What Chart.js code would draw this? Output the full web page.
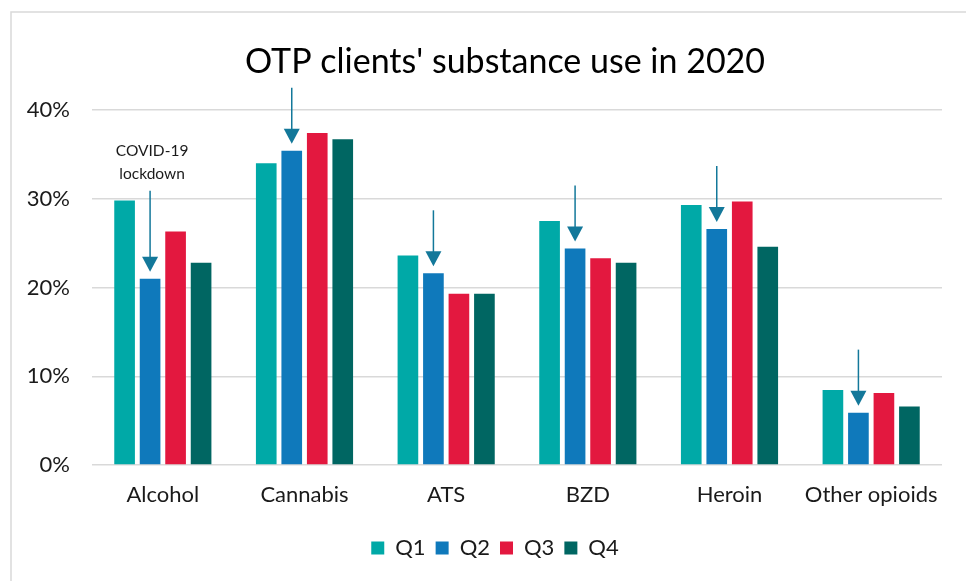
<!DOCTYPE html>
<html>
<head>
<meta charset="utf-8">
<script src="https://cdn.jsdelivr.net/npm/chart.js@4"></script>
<style>
  html, body { margin: 0; padding: 0; background: #ffffff; }
  #wrap { width: 966px; height: 581px; }
</style>
</head>
<body>
<div id="wrap"><canvas id="chart" width="966" height="581"></canvas></div>
<script>
// substance use by quarter, % of OTP clients
const categories = ['Alcohol', 'Cannabis', 'ATS', 'BZD', 'Heroin', 'Other opioids'];
const seriesNames = ['Q1', 'Q2', 'Q3', 'Q4'];
const q1 = [29.8, 34.0, 23.6, 27.5, 29.3, 8.45];
const q2 = [21.0, 35.4, 21.6, 24.4, 26.6, 5.9];
const q3 = [26.3, 37.4, 19.3, 23.3, 29.7, 8.1];
const q4 = [22.8, 36.7, 19.3, 22.8, 24.6, 6.6];
const yTicks = [0, 10, 20, 30, 40];
const titleText = "OTP clients' substance use in 2020";
const noteLines = ['COVID-19', 'lockdown'];

const colors = ['#00a9a7', '#0f79bb', '#e3183f', '#006662'];
const arrowColor = '#13789a';
const fontFamily = "Lato, 'Liberation Sans', sans-serif";

// white background, light frame along the top and left, and the title
const frame = {
    id: 'frame',
    afterLayout(chart) {
        // legend sits a little right of the canvas centre
        chart.legend.left += 18;
        chart.legend.right += 18;
    },
    beforeDraw(chart) {
        const ctx = chart.ctx;
        ctx.save();
        ctx.fillStyle = '#ffffff';
        ctx.fillRect(0, 0, chart.width, chart.height);
        ctx.strokeStyle = '#d9d9d9';
        ctx.lineWidth = 1.5;
        ctx.strokeRect(11, 12, chart.width + 20, chart.height + 20);
        ctx.fillStyle = '#000000';
        ctx.font = '34px ' + fontFamily;
        ctx.textAlign = 'center';
        ctx.textBaseline = 'middle';
        ctx.fillText(titleText, 505, 62);
        ctx.restore();
    }
};

// arrows pointing down at each Q2 bar, with the lockdown note over the first one
const lockdownArrows = {
    id: 'lockdownArrows',
    afterDatasetsDraw(chart) {
        const ctx = chart.ctx;
        const bars = chart.getDatasetMeta(1).data;
        ctx.save();
        ctx.strokeStyle = arrowColor;
        ctx.fillStyle = arrowColor;
        ctx.lineWidth = 1.5;
        bars.forEach((bar, i) => {
            const x = bar.x;
            const tip = bar.y - 7;
            const len = i === 0 ? 81 : 56;
            ctx.beginPath();
            ctx.moveTo(x, tip - len);
            ctx.lineTo(x, tip - 12);
            ctx.stroke();
            ctx.beginPath();
            ctx.moveTo(x - 8, tip - 15);
            ctx.lineTo(x + 8, tip - 15);
            ctx.lineTo(x, tip);
            ctx.closePath();
            ctx.fill();
        });
        // note text above the Alcohol arrow
        const first = bars[0];
        ctx.fillStyle = '#1a1a1a';
        ctx.font = '15.5px ' + fontFamily;
        ctx.textAlign = 'center';
        ctx.textBaseline = 'middle';
        const top = first.y - 7 - 81;
        ctx.fillText(noteLines[0], first.x + 2, top - 40);
        ctx.fillText(noteLines[1], first.x + 2, top - 17);
        ctx.restore();
    }
};

const seriesData = [q1, q2, q3, q4];

new Chart(document.getElementById('chart'), {
    type: 'bar',
    data: {
        labels: categories,
        datasets: seriesNames.map((name, i) => ({
            label: name,
            data: seriesData[i],
            backgroundColor: colors[i],
            borderWidth: 0,
            categoryPercentage: 0.72,
            barPercentage: 0.81
        }))
    },
    options: {
        responsive: false,
        animation: false,
        layout: { padding: { left: 12, right: 24, top: 110, bottom: 12 } },
        plugins: {
            title: { display: false },
            legend: {
                position: 'bottom',
                labels: {
                    color: '#1a1a1a',
                    font: { family: fontFamily, size: 22 },
                    boxWidth: 13,
                    boxHeight: 13,
                    padding: 10
                }
            },
            tooltip: { enabled: false }
        },
        scales: {
            x: {
                afterFit(scale) { scale.height = 62; },
                grid: { display: false },
                border: { display: false },
                ticks: {
                    color: '#1a1a1a',
                    font: { family: fontFamily, size: 22 },
                    padding: 9
                }
            },
            y: {
                min: 0,
                max: 40,
                afterFit(scale) { scale.width = 80; },
                afterBuildTicks(scale) { scale.ticks = yTicks.map(v => ({ value: v })); },
                grid: { color: '#d9d9d9', lineWidth: 1.5, drawTicks: false },
                border: { display: false },
                ticks: {
                    color: '#1a1a1a',
                    font: { family: fontFamily, size: 22 },
                    padding: 22,
                    callback: v => v + '%'
                }
            }
        }
    },
    plugins: [frame, lockdownArrows]
});
</script>
</body>
</html>
